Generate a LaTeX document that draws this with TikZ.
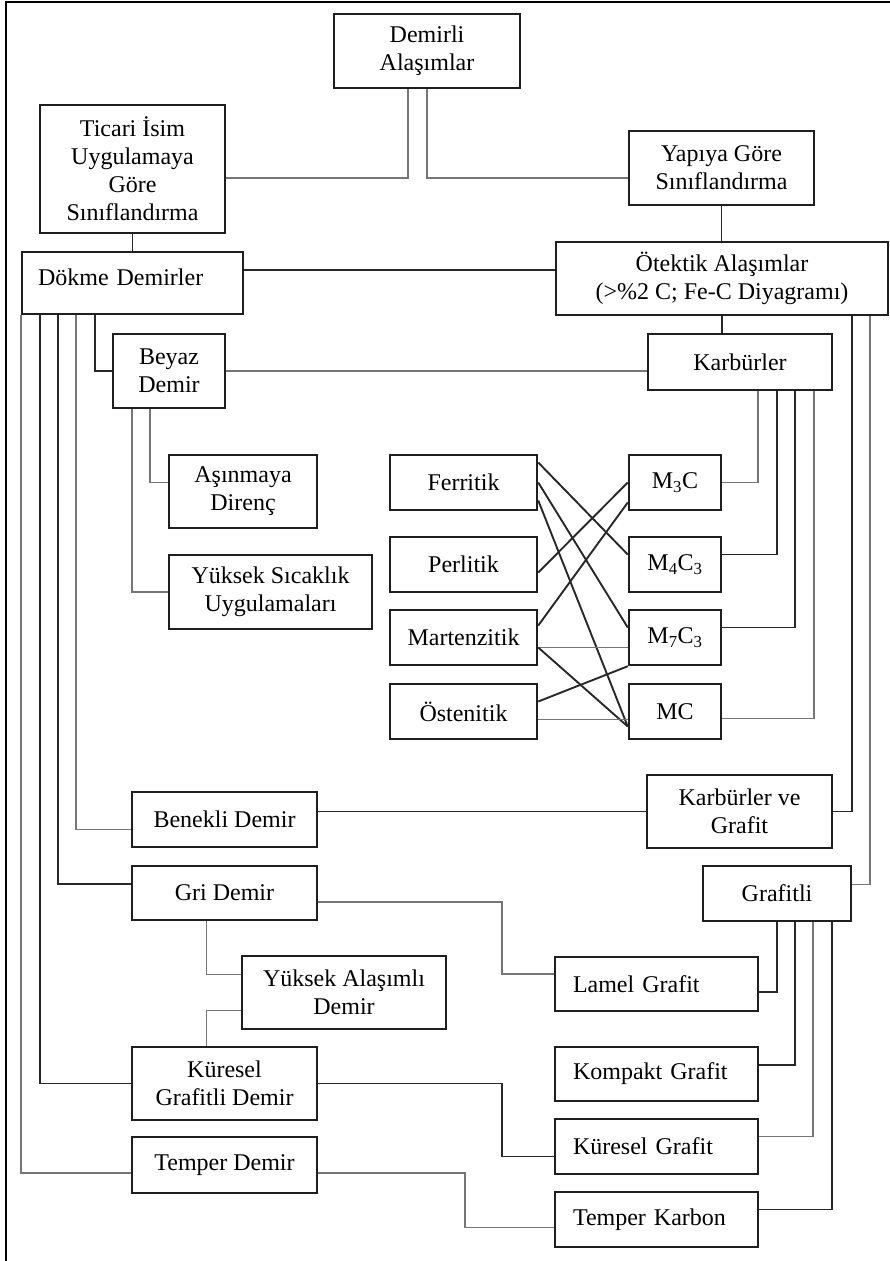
\documentclass[tikz,border=0pt]{standalone}
\usepackage{fontspec}
\setmainfont{Liberation Serif}
\usepackage{tikz}
\usetikzlibrary{positioning, calc}

\definecolor{LineDark}{RGB}{40, 40, 40}
\definecolor{LineGray}{RGB}{118, 118, 118}

\begin{document}
\begin{tikzpicture}[x=1pt, y=-1pt,
    every node/.style={font=\fontsize{24}{28}\selectfont},
    box/.style={draw=black!88, line width=2.5pt, rectangle, align=center, inner sep=2pt},
    boxl/.style={box, align=left, inner xsep=18pt, text width=167pt},
    link/.style={draw=LineDark, line width=1.9pt},
    glink/.style={draw=LineGray, line width=1.9pt}]
    \useasboundingbox (0,0) rectangle (890,1261);
    \draw[line width=1.8pt] (6,1261) -- (6,2) -- (890,2);

    % top levels
    \node[box, minimum width=186pt, minimum height=74pt] (dem) at (427,51) {Demirli\\Alaşımlar};
    \node[box, minimum width=185pt, minimum height=128pt] (tic) at (132.5,169) {Ticari İsim\\Uygulamaya\\Göre\\Sınıflandırma};
    \node[box, minimum width=185pt, minimum height=74pt] (yap) at (721.5,168) {Yapıya Göre\\Sınıflandırma};
    \node[box, minimum width=332pt, minimum height=73pt] (otek) at (722,278.5) {Ötektik Alaşımlar\\(>\%2 C; Fe-C Diyagramı)};
    \node[box, align=left, inner xsep=16pt, text width=189pt, text height=17pt, text depth=13pt, minimum height=62pt] (dok) at (132.5,283) {Dökme Demirler};

    % beyaz demir and carbides
    \node[box, minimum width=112pt, minimum height=74pt] (bey) at (169,371) {Beyaz\\Demir};
    \node[box, minimum width=184pt, minimum height=56pt] (karb) at (740,362) {Karbürler};
    \node[box, minimum width=148pt, minimum height=73pt] (asin) at (243,491.5) {Aşınmaya\\Direnç};
    \node[box, minimum width=203pt, minimum height=74pt] (yuks) at (270.5,592) {Yüksek Sıcaklık\\Uygulamaları};

    \node[box, minimum width=147pt, minimum height=55pt] (fer) at (463.5,482.5) {Ferritik};
    \node[box, minimum width=147pt, minimum height=55pt] (per) at (463.5,564.5) {Perlitik};
    \node[box, minimum width=147pt, minimum height=55pt] (mar) at (463.5,637.5) {Martenzitik};
    \node[box, minimum width=147pt, minimum height=55pt] (ost) at (463.5,711.5) {Östenitik};

    \node[box, minimum width=92pt, minimum height=55pt] (m3c) at (675,482.5) {M\textsubscript{3}C};
    \node[box, minimum width=92pt, minimum height=55pt] (m4c) at (675,564.5) {M\textsubscript{4}C\textsubscript{3}};
    \node[box, minimum width=92pt, minimum height=55pt] (m7c) at (675,637.5) {M\textsubscript{7}C\textsubscript{3}};
    \node[box, minimum width=92pt, minimum height=55pt] (mc) at (675,711.5) {MC};

    % lower part
    \node[box, minimum width=185pt, minimum height=55pt] (ben) at (224.5,819.5) {Benekli Demir};
    \node[box, minimum width=185pt, minimum height=73pt] (kvg) at (739.5,811.5) {Karbürler ve\\Grafit};
    \node[box, minimum width=185pt, minimum height=54pt] (gri) at (224.5,893) {Gri Demir};
    \node[box, minimum width=148pt, minimum height=55pt] (graf) at (777,893.5) {Grafitli};
    \node[box, minimum width=204pt, minimum height=73pt] (yad) at (344,992.5) {Yüksek Alaşımlı\\Demir};
    \node[box, minimum width=185pt, minimum height=73pt] (kgd) at (224.5,1083.5) {Küresel\\Grafitli Demir};
    \node[box, minimum width=185pt, minimum height=56pt] (tem) at (224.5,1165) {Temper Demir};

    \node[boxl, minimum height=54pt] (lam) at (656.5,984) {Lamel Grafit};
    \node[boxl, minimum height=54pt] (komp) at (656.5,1074) {Kompakt Grafit};
    \node[boxl, minimum height=55pt] (kg) at (656.5,1146.5) {Küresel Grafit};
    \node[boxl, minimum height=55pt] (tk) at (656.5,1219.5) {Temper Karbon};

    % connectors
    \draw[glink] ([xshift=-19pt]dem.south) |- ([yshift=-9pt]tic.east);
    \draw[glink] (dem.south) |- ([yshift=-10pt]yap.west);
    \draw[link] (tic.south) -- (tic.south |- dok.north);
    \draw[link] ([yshift=13pt]dok.east) -- ([yshift=13pt]dok.east -| otek.west);
    \draw[link] (yap.south) -- (yap.south |- otek.north);
    \draw[link] (otek.south) -- (otek.south |- karb.north);

    \draw[glink] (dok.south west) |- ([yshift=-8pt]tem.west);
    \draw[link] ([xshift=19pt]dok.south west) |- (kgd.west);
    \draw[link] ([xshift=37pt]dok.south west) |- ([yshift=9pt]gri.west);
    \draw[glink] ([xshift=55pt]dok.south west) |- ([yshift=-10pt]ben.west);
    \draw[link] ([xshift=74pt]dok.south west) |- (bey.west);

    \draw[glink] (bey.east) -- (bey.east -| karb.west);
    \draw[glink] ([xshift=38pt]bey.south west) |- ([yshift=9pt]asin.west);
    \draw[glink] ([xshift=20pt]bey.south west) |- (yuks.west);

    \draw[glink] ([xshift=18pt]karb.south) |- (m3c.east);
    \draw[link] ([xshift=37pt]karb.south) |- ([yshift=10pt]m4c.east);
    \draw[link] ([xshift=55pt]karb.south) |- ([yshift=10pt]m7c.east);
    \draw[glink] ([xshift=74pt]karb.south) |- ([yshift=-7pt]mc.east);

    \draw[link] ([yshift=20pt]fer.east) -- ([yshift=10pt]m4c.west);
    \draw[link] (fer.east) -- ([yshift=10pt]m7c.west);
    \draw[link] ([yshift=-18pt]fer.east) -- ([yshift=-15pt]mc.west);
    \draw[link] ([yshift=-8pt]per.east) -- (m3c.west);
    \draw[link] ([yshift=12pt]mar.east) -- ([yshift=-20pt]m3c.west);
    \draw[glink] ([yshift=-10pt]mar.east) -- ([yshift=-10pt]m7c.west);
    \draw[link] ([yshift=-10pt]mar.east) -- ([yshift=-15pt]mc.west);
    \draw[link] ([yshift=10pt]ost.east) -- (m7c.south west);
    \draw[glink] ([yshift=-8pt]ost.east) -- ([yshift=-8pt]mc.west);

    \draw[link] ([xshift=-37pt]otek.south east) |- (kvg.east);
    \draw[glink] ([xshift=-19pt]otek.south east) |- ([yshift=9pt]graf.east);
    \draw[link] ([yshift=8pt]ben.east) -- ([yshift=8pt]ben.east -| kvg.west);

    \draw[glink] ([yshift=-9pt]gri.east) -- ++(184,0) |- ([yshift=10pt]lam.west);
    \draw[glink] ([xshift=-18pt]gri.south) |- ([yshift=18pt]yad.west);
    \draw[glink] ([yshift=-18pt]yad.west) -| ([xshift=-18pt]kgd.north);
    \draw[link] (kgd.east) -- ++(184,0) |- ([yshift=-10pt]kg.west);
    \draw[glink] ([yshift=-8pt]tem.east) -- ++(147,0) |- ([yshift=-8pt]tk.west);

    \draw[link] (graf.south) |- ([yshift=-8pt]lam.east);
    \draw[link] ([xshift=18pt]graf.south) |- ([yshift=9pt]komp.east);
    \draw[glink] ([xshift=36pt]graf.south) |- ([yshift=10pt]kg.east);
    \draw[link] ([xshift=55pt]graf.south) |- ([yshift=10pt]tk.east);
\end{tikzpicture}
\end{document}
